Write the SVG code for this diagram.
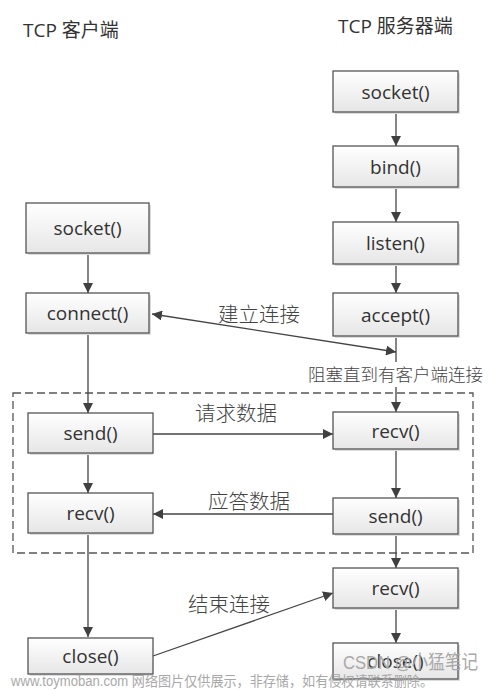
<svg xmlns="http://www.w3.org/2000/svg" width="495" height="690" viewBox="0 0 495 690">
<defs>
<linearGradient id="g" x1="0" y1="0" x2="0" y2="1">
<stop offset="0" stop-color="#ffffff"/>
<stop offset="1" stop-color="#e6e6e6"/>
</linearGradient>
<marker id="ah" viewBox="0 0 10 10" refX="10" refY="5" markerWidth="10" markerHeight="10" markerUnits="userSpaceOnUse" orient="auto-start-reverse">
<path d="M0,0 L10,5 L0,10 z" fill="#404040"/>
</marker>
</defs>
<style>
.box{fill:url(#g);stroke:#555;stroke-width:1.3}
.shadow{fill:#ddd}
.t{font-family:"Open Sans","Liberation Sans",sans-serif;font-size:19px;fill:#333;text-anchor:middle;dominant-baseline:central}
.h{font-family:"Open Sans","Noto Sans CJK SC",sans-serif;font-size:19px;fill:#333}
.lbl{font-family:"Noto Sans CJK SC",sans-serif;font-size:20.5px;fill:#444;font-weight:300}
.c{stroke:#444;stroke-width:1.3;fill:none;marker-end:url(#ah)}
.cn{stroke:#444;stroke-width:1.3;fill:none}
.wm{font-family:"Liberation Sans","Noto Sans CJK SC",sans-serif;fill:#a8a8a8}
</style>
<rect width="495" height="690" fill="#fff"/>
<text class="h" x="23" y="37">TCP 客户端</text>
<text class="h" x="338" y="33">TCP 服务器端</text>
<rect x="13" y="393" width="460" height="160" fill="none" stroke="#555" stroke-width="1.3" stroke-dasharray="8,4"/>
<g id="connectors">
<line class="c" x1="396" y1="112" x2="396" y2="146"/>
<line class="c" x1="396" y1="187" x2="396" y2="222"/>
<line class="c" x1="396" y1="264" x2="396" y2="293"/>
<line class="cn" x1="396" y1="336" x2="396" y2="362"/>
<line class="c" x1="396" y1="387" x2="396" y2="412"/>
<line class="c" x1="88" y1="253" x2="88" y2="293"/>
<line class="c" x1="88" y1="333" x2="88" y2="413"/>
<line class="c" x1="88" y1="453" x2="88" y2="493"/>
<line class="c" x1="88" y1="533" x2="88" y2="637"/>
<line class="c" x1="396" y1="449" x2="396" y2="498"/>
<line class="c" x1="396" y1="534" x2="396" y2="568"/>
<line class="c" x1="396" y1="608" x2="396" y2="643"/>
<line class="c" x1="152" y1="314" x2="396" y2="352" style="marker-start:url(#ah)"/>
<line class="c" x1="153" y1="434" x2="333" y2="434"/>
<line class="c" x1="333" y1="514" x2="153" y2="514"/>
<line class="c" x1="153" y1="656" x2="333" y2="593"/>
<text class="lbl" x="218" y="322">建立连接</text>
<text class="lbl" x="195" y="421">请求数据</text>
<text class="lbl" x="208" y="509">应答数据</text>
<text class="lbl" x="188" y="612">结束连接</text>
<text class="lbl" x="308" y="381" style="font-size:17.5px">阻塞直到有客户端连接</text>
</g>
<g id="s_socket"><rect class="shadow" x="335" y="73" width="125" height="41"/><rect class="box" x="333" y="71" width="125" height="41"/><text class="t" x="395.5" y="91.5">socket()</text></g>
<g id="s_bind"><rect class="shadow" x="335" y="148" width="125" height="41"/><rect class="box" x="333" y="146" width="125" height="41"/><text class="t" x="395.5" y="166.5">bind()</text></g>
<g id="s_listen"><rect class="shadow" x="335" y="224" width="125" height="42"/><rect class="box" x="333" y="222" width="125" height="42"/><text class="t" x="395.5" y="243">listen()</text></g>
<g id="s_accept"><rect class="shadow" x="335" y="295" width="125" height="43"/><rect class="box" x="333" y="293" width="125" height="43"/><text class="t" x="395.5" y="314.5">accept()</text></g>
<g id="s_recv"><rect class="shadow" x="335" y="414" width="125" height="37"/><rect class="box" x="333" y="412" width="125" height="37"/><text class="t" x="395.5" y="430.5">recv()</text></g>
<g id="s_send"><rect class="shadow" x="335" y="500" width="125" height="36"/><rect class="box" x="333" y="498" width="125" height="36"/><text class="t" x="395.5" y="516">send()</text></g>
<g id="s_recv2"><rect class="shadow" x="335" y="570" width="125" height="40"/><rect class="box" x="333" y="568" width="125" height="40"/><text class="t" x="395.5" y="588">recv()</text></g>
<g id="s_close"><rect class="shadow" x="335" y="645" width="125" height="36"/><rect class="box" x="333" y="643" width="125" height="36"/><text class="t" x="395.5" y="661">close()</text></g>
<g id="c_socket"><rect class="shadow" x="28" y="205" width="123" height="50"/><rect class="box" x="26" y="203" width="123" height="50"/><text class="t" x="87.5" y="228">socket()</text></g>
<g id="c_connect"><rect class="shadow" x="28" y="295" width="123" height="40"/><rect class="box" x="26" y="293" width="123" height="40"/><text class="t" x="87.5" y="313">connect()</text></g>
<g id="c_send"><rect class="shadow" x="30" y="415" width="123" height="40"/><rect class="box" x="28" y="413" width="125" height="40"/><text class="t" x="90.5" y="433">send()</text></g>
<g id="c_recv"><rect class="shadow" x="30" y="495" width="123" height="40"/><rect class="box" x="28" y="493" width="125" height="40"/><text class="t" x="90.5" y="513">recv()</text></g>
<g id="c_close"><rect class="shadow" x="30" y="640" width="123" height="36"/><rect class="box" x="28" y="638" width="125" height="36"/><text class="t" x="90.5" y="656">close()</text></g>
<text class="wm" x="343" y="669" font-size="19" textLength="135" lengthAdjust="spacingAndGlyphs">CSDN @小猛笔记</text>
<text class="wm" x="11" y="686" font-size="14" textLength="422" lengthAdjust="spacingAndGlyphs">www.toymoban.com 网络图片仅供展示，非存储，如有侵权请联系删除。</text>
</svg>
